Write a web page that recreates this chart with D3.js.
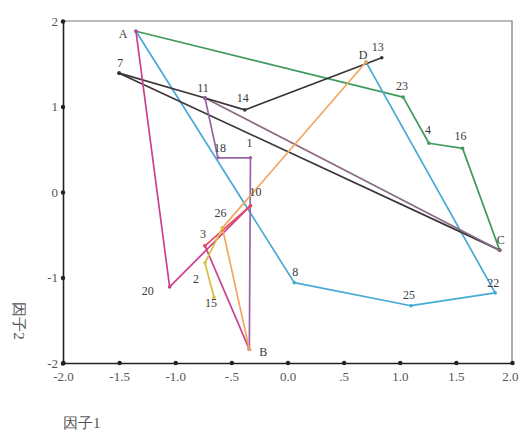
<!DOCTYPE html>
<html>
<head>
<meta charset="utf-8">
<script src="https://cdn.jsdelivr.net/npm/d3@7"></script>
<style>
  html, body { margin: 0; padding: 0; background: #fff; }
  text { font-family: "Liberation Serif", "DejaVu Serif", serif; }
</style>
</head>
<body>
<svg id="chart" width="519" height="432"></svg>
<script>
// Case names and their scores on the two factors
const pointNames = ["A", "7", "11", "14", "13", "D", "23", "4", "16", "C", "22", "25", "8", "B", "20", "3", "26", "2", "15", "18", "1", "10"];
const factor1 = [-1.35, -1.50, -0.735, -0.38, 0.84, 0.70, 1.03, 1.26, 1.56, 1.89, 1.85, 1.10, 0.06, -0.34, -1.05, -0.735, -0.58, -0.735, -0.655, -0.62, -0.33, -0.33];
const factor2 = [1.88, 1.39, 1.10, 0.96, 1.57, 1.52, 1.11, 0.57, 0.51, -0.68, -1.18, -1.33, -1.06, -1.84, -1.11, -0.63, -0.42, -0.83, -1.23, 0.40, 0.40, -0.16];

// Paths joining the cases, one colour each
const pathMembers = [
  ["A", "23", "4", "16", "C"],
  ["A", "8", "25", "22", "D"],
  ["7", "C"],
  ["11", "C"],
  ["7", "11", "14", "13"],
  ["11", "18", "1", "B"],
  ["A", "20", "10"],
  ["3", "B"],
  ["B", "26", "D"],
  ["3", "10"],
  ["26", "2", "15"]
];
const pathColors = ["#3f9a5c", "#45aad6", "#3a3438", "#8a6c86", "#3a3438", "#9a64a6", "#cc3f8e", "#c8458e", "#f2a660", "#e8485a", "#d8bf45"];

// Axis tick values and their printed labels
const xTicks = [-2, -1.5, -1, -0.5, 0, 0.5, 1, 1.5, 2];
const xTickLabels = ["-2.0", "-1.5", "-1.0", "-.5", "0.0", ".5", "1.0", "1.5", "2.0"];
const yTicks = [-2, -1, 0, 1, 2];
const yTickLabels = ["-2", "-1", "0", "1", "2"];

// Where each case label sits relative to its point (pixels)
const labelShift = {
  "A": [-13, 3], "7": [1, -10], "11": [-2, -10], "14": [-2, -12], "13": [-4, -11],
  "D": [-3, -7], "23": [-1, -11], "4": [-1, -13], "16": [-2, -13], "C": [1, -10],
  "22": [-2, -10], "25": [-2, -11], "8": [1, -11], "B": [14, 2], "20": [-22, 4],
  "3": [-2, -12], "26": [-2, -15], "2": [-9, 16], "15": [-3, 6], "18": [2, -10],
  "1": [-1, -15], "10": [5, -14]
};

const svg = d3.select("#chart");
const x = d3.scaleLinear().domain([-2, 2]).range([63, 512]);
const y = d3.scaleLinear().domain([-2, 2]).range([363, 21]);

const pos = {};
pointNames.forEach((n, i) => { pos[n] = [factor1[i], factor2[i]]; });

// Frame on the top and right
svg.append("path")
  .attr("d", `M${x(-2)},${y(2)}H${x(2)}V${y(-2)}`)
  .attr("fill", "none").attr("stroke", "#777").attr("stroke-width", 1.2);

// Axes
const xAxis = d3.axisBottom(x).tickValues(xTicks).tickSize(0)
  .tickFormat((d, i) => xTickLabels[i]);
const yAxis = d3.axisLeft(y).tickValues(yTicks).tickSize(0)
  .tickFormat((d, i) => yTickLabels[i]);

const gx = svg.append("g").attr("transform", `translate(0,${y(-2)})`).call(xAxis);
const gy = svg.append("g").attr("transform", `translate(${x(-2)},0)`).call(yAxis);
[gx, gy].forEach(g => {
  g.select(".domain").attr("stroke", "#222").attr("stroke-width", 1.6);
  g.selectAll("text").attr("font-family", "Liberation Serif, serif")
    .attr("font-size", 13).attr("fill", "#555");
});
gx.selectAll(".tick text").attr("dy", "1.05em").attr("y", 4);
// keep the last label inside the page edge
gx.selectAll(".tick text").filter((d, i) => i === xTicks.length - 1)
  .attr("text-anchor", "end").attr("x", 6);
gy.selectAll(".tick text").attr("x", -5).attr("dy", "0.32em");

// Tick dots on the axis lines
gx.selectAll(".tick").append("circle").attr("r", 2.2).attr("fill", "#222");
gy.selectAll(".tick").append("circle").attr("r", 2.2).attr("fill", "#222");

// Joining paths
const line = d3.line().x(d => x(pos[d][0])).y(d => y(pos[d][1]));
svg.append("g").selectAll("path")
  .data(pathMembers)
  .join("path")
  .attr("d", d => line(d))
  .attr("fill", "none")
  .attr("stroke", (d, i) => pathColors[i])
  .attr("stroke-width", 1.7)
  .attr("stroke-linejoin", "round");

// Small markers at the path vertices
const verts = [];
pathMembers.forEach((m, i) => m.forEach(n => verts.push({ n, c: pathColors[i] })));
svg.append("g").selectAll("circle")
  .data(verts)
  .join("circle")
  .attr("cx", d => x(pos[d.n][0]))
  .attr("cy", d => y(pos[d.n][1]))
  .attr("r", 1.8)
  .attr("fill", d => d.c);

// Case labels
svg.append("g").selectAll("text")
  .data(pointNames)
  .join("text")
  .attr("x", d => x(pos[d][0]) + labelShift[d][0])
  .attr("y", d => y(pos[d][1]) + labelShift[d][1])
  .attr("text-anchor", "middle")
  .attr("dy", "0.35em")
  .attr("font-size", 12)
  .attr("fill", "#3a3a3a")
  .text(d => d);

// Axis titles
svg.append("text")
  .attr("x", 63).attr("y", 428)
  .attr("font-family", "Noto Sans CJK SC, sans-serif")
  .attr("font-size", 15).attr("fill", "#555")
  .text("因子1");

svg.append("text")
  .attr("transform", "translate(14,321) rotate(90)")
  .attr("text-anchor", "middle")
  .attr("font-family", "Noto Sans CJK SC, sans-serif")
  .attr("font-size", 15).attr("fill", "#555")
  .text("因子2");
</script>
</body>
</html>
